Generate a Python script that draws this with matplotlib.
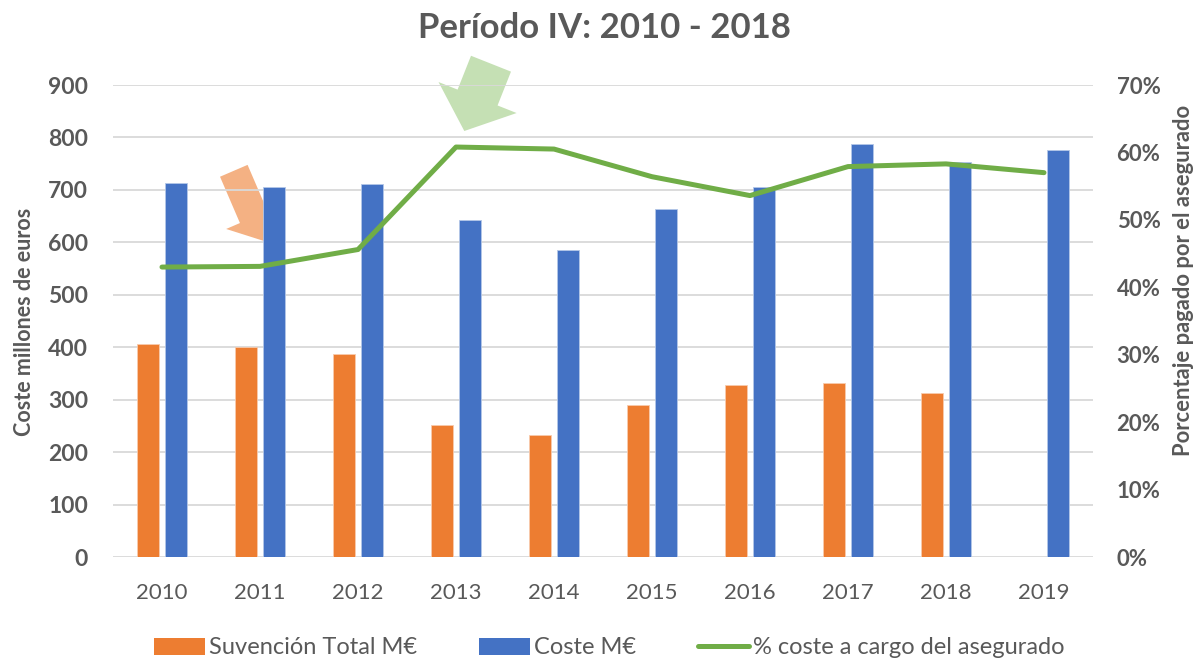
import matplotlib
matplotlib.use("Agg")
import matplotlib.pyplot as plt
import numpy as np
from matplotlib.patches import Polygon, Patch
from matplotlib.lines import Line2D

years = ["2010", "2011", "2012", "2013", "2014", "2015", "2016", "2017", "2018", "2019"]
subvencion = [406, 401, 387, 252, 232, 289, 328, 332, 313, np.nan]
coste = [714, 705, 712, 643, 585, 663, 705, 787, 753, 777]
pct_asegurado = [43.0, 43.1, 45.6, 60.8, 60.5, 56.4, 53.6, 57.9, 58.3, 57.0]

left_ticks = [0, 100, 200, 300, 400, 500, 600, 700, 800, 900]
right_ticks = [0, 10, 20, 30, 40, 50, 60, 70]

W, H = 1201, 661
plt.rcParams['font.family'] = ['Lato', 'DejaVu Sans']
grey = '#595959'

fig = plt.figure(figsize=(W / 100, H / 100), dpi=100)
ax = fig.add_axes([113 / W, 1 - 557 / H, (1093 - 113) / W, (557 - 85) / H])
ax2 = ax.twinx()

x = np.arange(len(years))
bw = 0.225
off = 0.142
ax.bar(x - off, subvencion, bw, color='#ED7D31', edgecolor='#F8CBAD', linewidth=0.6, zorder=2)
ax.bar(x + off, coste, bw, color='#4472C4', edgecolor='#B4C7E7', linewidth=0.6, zorder=2)
ax.set_xlim(-0.5, len(years) - 0.5)
ax.set_ylim(0, 900)
ax.set_yticks(left_ticks)
ax.set_xticks(x)
ax.set_xticklabels(years)
ax.set_axisbelow(True)
ax.yaxis.grid(True, color='#D9D9D9', linewidth=1.3)
for s in ax.spines.values():
    s.set_visible(False)
for s in ax2.spines.values():
    s.set_visible(False)
ax.tick_params(axis='both', length=0)
ax.tick_params(axis='x', pad=19, labelsize=16, labelcolor=grey)
ax.tick_params(axis='y', pad=18, labelsize=16.5, labelcolor=grey)
for t in ax.get_yticklabels():
    t.set_fontweight('bold')

ax2.plot(x, pct_asegurado, color='#70AD47', linewidth=3.6, solid_capstyle='round', solid_joinstyle='round')
ax2.set_ylim(0, 70)
ax2.set_yticks(right_ticks)
ax2.set_yticklabels([f"{v}%" for v in right_ticks])
ax2.tick_params(axis='y', length=0, pad=17, labelsize=16, labelcolor=grey)
for t in ax2.get_yticklabels():
    t.set_fontweight('bold')

fig.text(25 / W, 1 - 322 / H, "Coste millones de euros", rotation=90, ha='center', va='center',
         fontsize=15.5, fontweight='bold', color=grey)
fig.text(1184 / W, 1 - 280 / H, "Porcentaje pagado por el asegurado", rotation=90, ha='center', va='center',
         fontsize=15.8, fontweight='bold', color=grey)
fig.text(604 / W, 1 - 28 / H, "Período IV: 2010 - 2018", ha='center', va='center',
         fontsize=25, fontweight='bold', color=grey)


def block_arrow(tail, tip, shaft_half, head_half, head_len):
    tail = np.array(tail, float)
    tip = np.array(tip, float)
    d = tip - tail
    L = np.hypot(*d)
    u = d / L
    n = np.array([u[1], -u[0]])
    base = tip - u * head_len
    pts = [tail + n * shaft_half, base + n * shaft_half, base + n * head_half, tip,
           base - n * head_half, base - n * shaft_half, tail - n * shaft_half]
    return [(p[0] / W, 1 - p[1] / H) for p in pts]


ax.add_patch(Polygon(block_arrow((233.8, 170.8), (264, 241), 15, 30, 26), closed=True,
                     transform=fig.transFigure, facecolor='#F4B183', edgecolor='none',
                     zorder=0.3, clip_on=False))
ax.add_patch(Polygon(block_arrow((491, 63.7), (464.3, 131), 21.5, 42, 36), closed=True,
                     transform=fig.transFigure, facecolor='#C5E0B4', edgecolor='none',
                     zorder=0.3, clip_on=False))

handles = [Patch(facecolor='#ED7D31', edgecolor='none'),
           Patch(facecolor='#4472C4', edgecolor='none'),
           Line2D([0], [0], color='#70AD47', linewidth=3.6, solid_capstyle='round')]
labels = ["Suvención Total M€", "Coste M€", "% coste a cargo del asegurado"]
leg = fig.legend(handles, labels, loc='center', bbox_to_anchor=(609 / W, 1 - 648 / H), ncol=3,
                 frameon=False, fontsize=17, handlelength=2.2, handleheight=0.7, handletextpad=0.15,
                 columnspacing=2.6, labelcolor=grey)

fig.savefig("out.png", dpi=100)
